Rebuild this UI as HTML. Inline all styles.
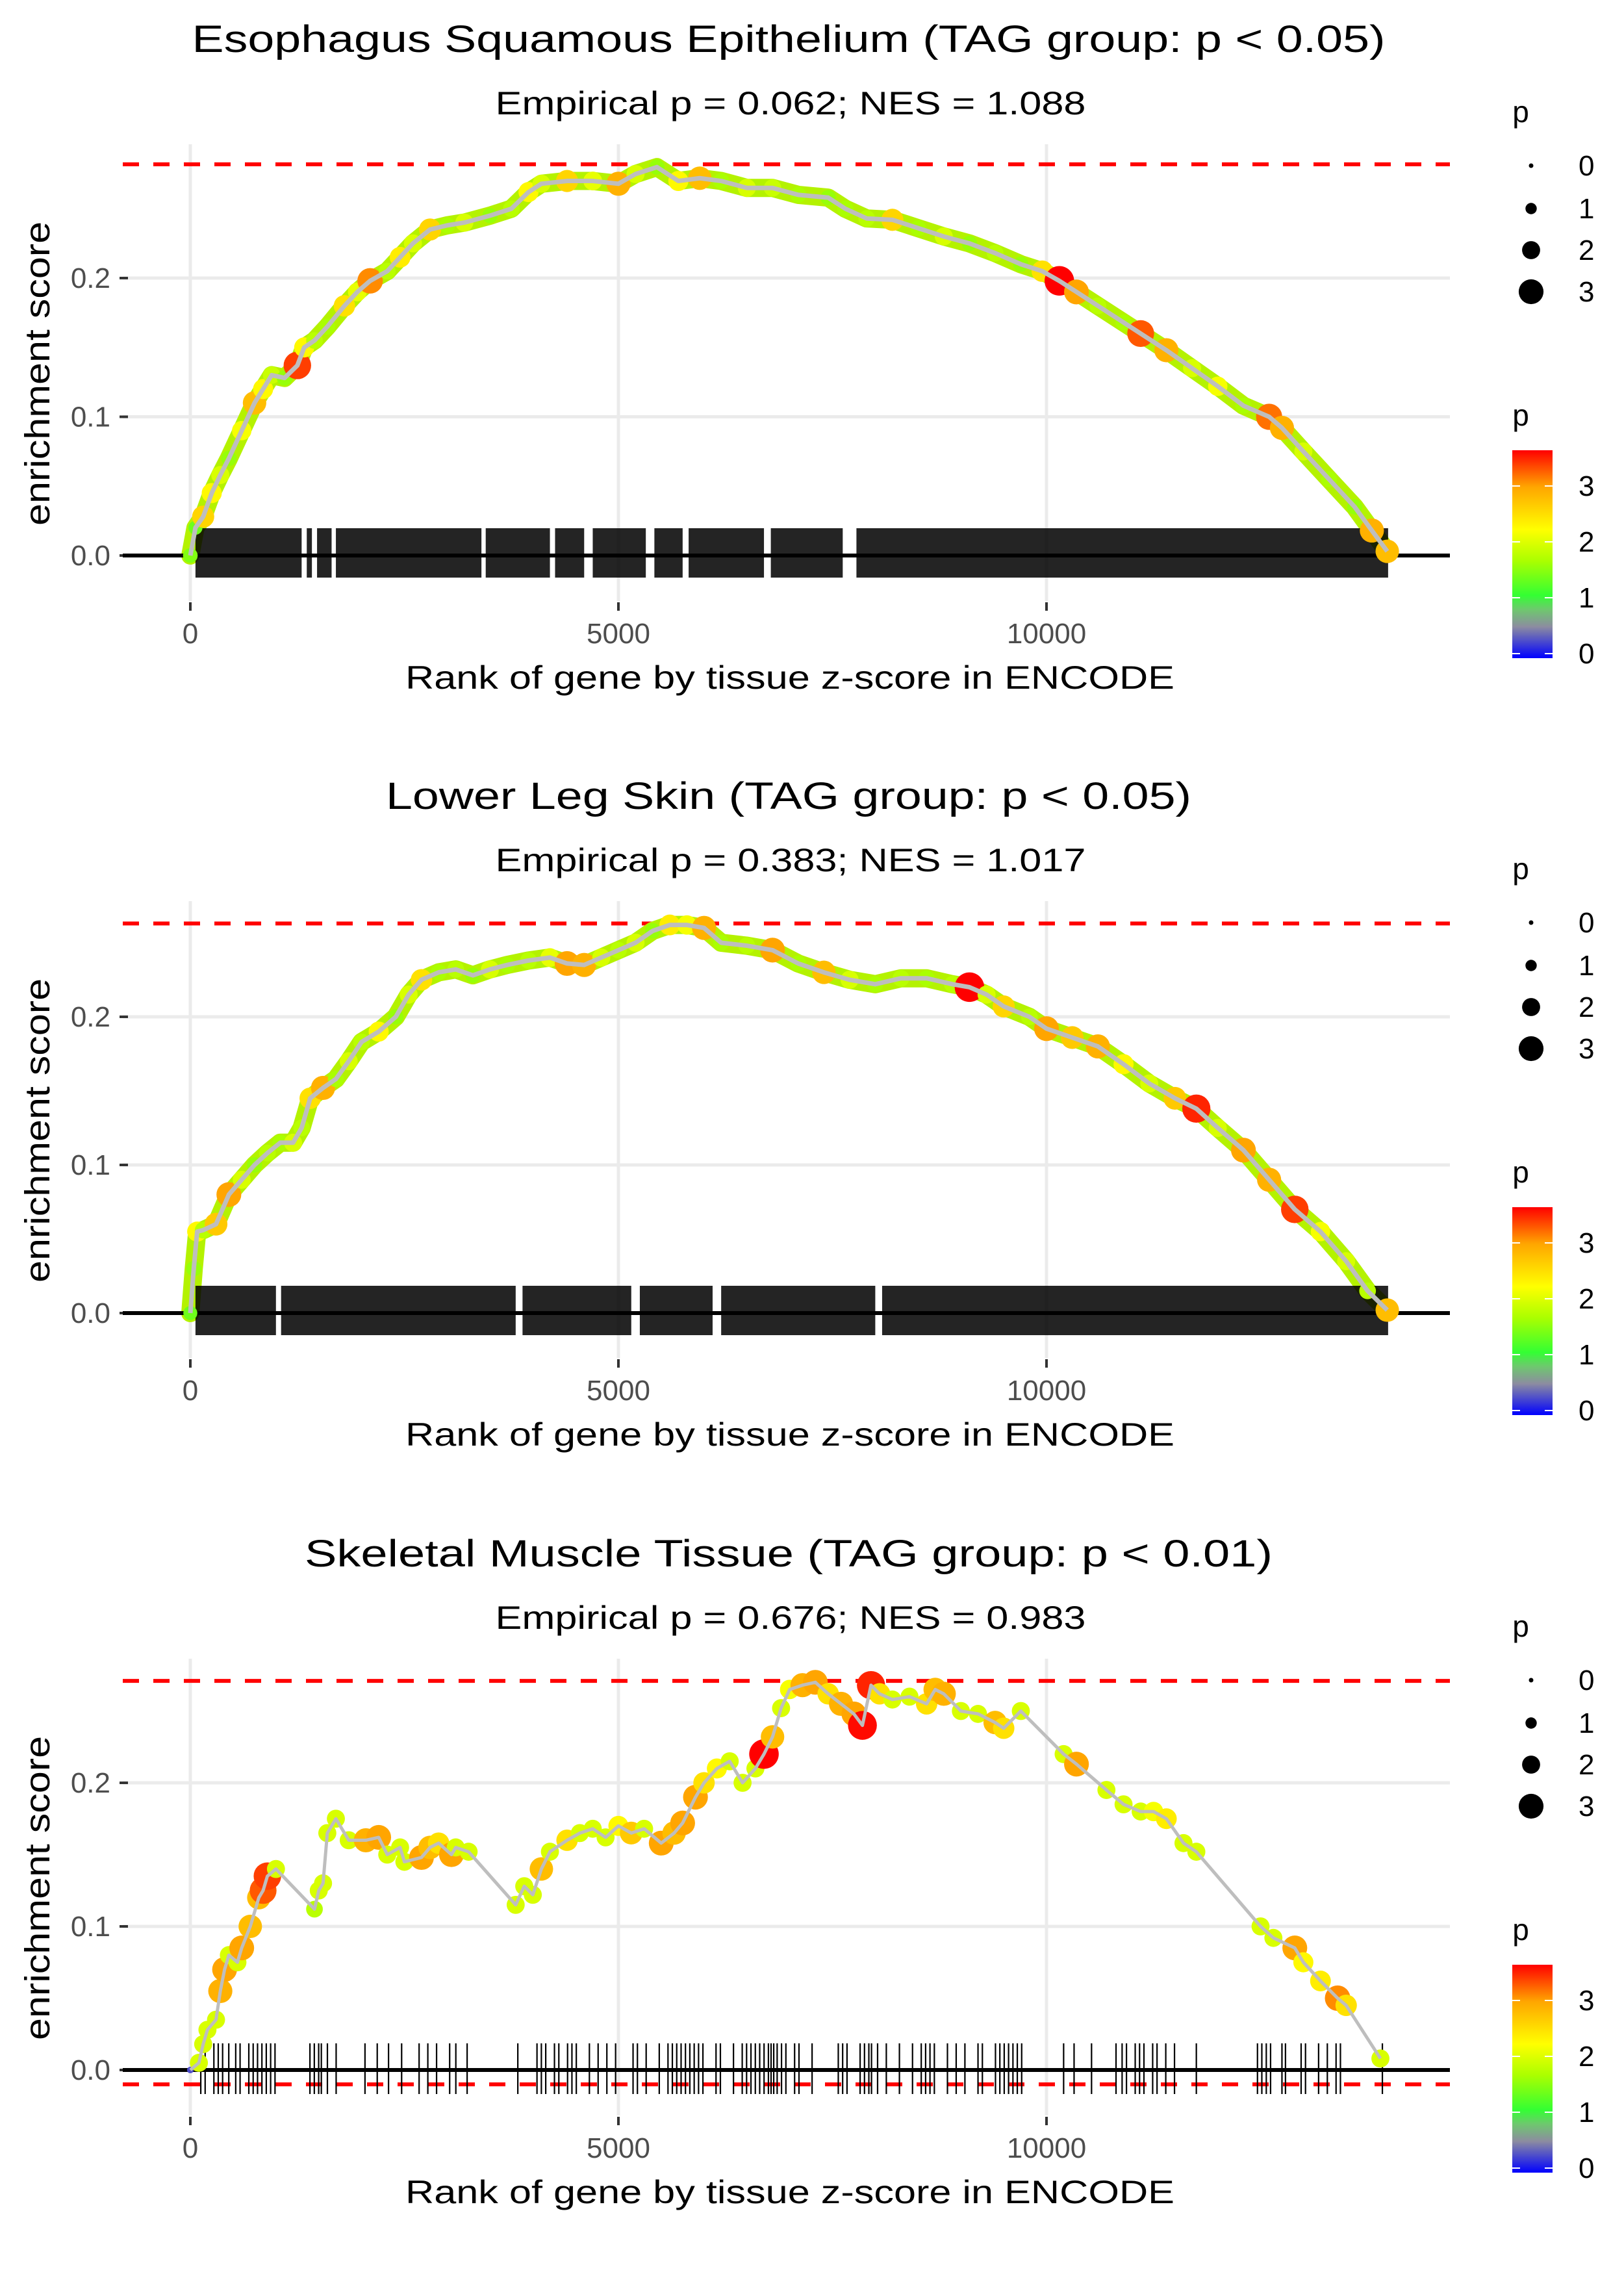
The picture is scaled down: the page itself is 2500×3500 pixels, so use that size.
<!DOCTYPE html>
<html><head><meta charset="utf-8"><style>
html,body{margin:0;padding:0;background:#fff;}
svg{display:block;font-family:"Liberation Sans",sans-serif;}
</style></head><body>
<svg id="root" width="2500" height="3500" viewBox="0 0 2500 3500" xmlns="http://www.w3.org/2000/svg"></svg>
<script>
// ---------- Panel 1 data ----------
const ranks1 = [0,60,150,250,350,450,600,750,850,950,1100,1250,1330,1450,1600,1800,1950,2100,2300,2450,2600,2800,3000,3200,3500,3750,3950,4100,4400,4700,5000,5200,5450,5700,5950,6200,6500,6800,7100,7450,7650,7900,8200,8500,8800,9100,9400,9700,9950,10150,10350,10600,10900,11100,11400,11700,12000,12300,12600,12750,13000,13300,13600,13800,13980];
const es1 = [0.0,0.02,0.028,0.045,0.058,0.07,0.09,0.11,0.12,0.13,0.128,0.137,0.15,0.155,0.165,0.18,0.19,0.198,0.205,0.215,0.225,0.235,0.238,0.24,0.245,0.25,0.262,0.268,0.27,0.27,0.268,0.275,0.28,0.27,0.272,0.27,0.265,0.265,0.26,0.258,0.25,0.243,0.242,0.236,0.23,0.225,0.218,0.21,0.205,0.198,0.19,0.18,0.168,0.16,0.148,0.135,0.122,0.108,0.1,0.092,0.075,0.055,0.035,0.018,0.003];
const p1 = [1.5,1.4,2.6,2.3,2.0,1.6,2.2,2.8,2.3,1.9,1.6,3.4,2.3,1.8,1.7,2.5,2.1,3.1,1.8,2.4,2.0,2.6,1.7,2.0,1.6,1.8,2.3,2.0,2.6,2.1,2.9,2.0,1.6,2.3,2.8,1.7,2.0,1.9,1.7,1.6,1.7,1.8,2.6,1.7,2.0,1.6,1.8,1.6,2.5,3.7,3.0,1.8,1.7,3.3,2.9,2.0,2.2,1.7,3.2,2.9,2.0,1.7,1.6,2.9,2.8];
const rugBands1 = [[60,1300],[1360,1420],[1480,1650],[1700,3400],[3450,4200],[4260,4600],[4700,5320],[5420,5750],[5820,6700],[6780,7620],[7780,13990]];
// ---------- Panel 2 data ----------
const ranks2 = [0,40,80,150,300,450,600,750,900,1050,1200,1300,1400,1550,1700,1850,2000,2200,2400,2550,2700,2900,3100,3300,3500,3700,3950,4200,4400,4600,4800,5000,5200,5400,5600,5800,6000,6200,6500,6800,7100,7400,7700,8000,8300,8600,8900,9100,9300,9500,9800,10000,10300,10600,10900,11200,11500,11750,12000,12300,12600,12900,13200,13500,13750,13980];
const es2 = [0.0,0.03,0.055,0.056,0.06,0.08,0.09,0.1,0.108,0.115,0.115,0.125,0.145,0.152,0.158,0.17,0.183,0.19,0.2,0.215,0.225,0.23,0.232,0.228,0.232,0.235,0.238,0.24,0.236,0.235,0.24,0.245,0.25,0.258,0.262,0.262,0.26,0.25,0.248,0.245,0.236,0.23,0.225,0.222,0.226,0.226,0.222,0.22,0.215,0.207,0.2,0.192,0.186,0.18,0.168,0.155,0.145,0.138,0.125,0.11,0.09,0.07,0.055,0.035,0.015,0.002];
const p2 = [1.4,1.6,2.3,1.8,2.7,3.0,2.0,1.6,1.8,1.7,2.0,1.8,2.5,2.9,1.7,2.0,1.8,2.3,1.6,2.0,2.5,1.7,1.8,1.6,2.0,1.7,1.8,2.1,3.0,2.9,2.0,1.8,2.0,1.6,2.4,2.2,2.9,1.7,1.8,3.0,1.7,2.8,2.0,1.7,1.8,1.7,1.8,3.7,2.0,2.6,1.8,3.0,2.7,2.9,2.3,2.0,2.7,3.5,2.0,3.0,2.9,3.4,2.2,2.0,1.8,2.8];
const rugBands2 = [[60,1000],[1060,3800],[3880,5150],[5250,6100],[6200,8000],[8080,13990]];
// ---------- Panel 3 data ----------
const ranks3 = [0,100,150,200,300,350,400,450,550,600,700,800,850,900,1000,1450,1500,1550,1600,1700,1850,2050,2200,2300,2450,2500,2700,2800,2900,3050,3100,3250,3800,3900,4000,4100,4200,4400,4550,4700,4850,5000,5150,5300,5500,5650,5750,5900,6000,6150,6300,6450,6600,6700,6800,6900,7000,7150,7300,7450,7600,7750,7850,7950,8050,8200,8400,8600,8700,8800,9000,9200,9400,9500,9700,10200,10350,10700,10900,11100,11250,11400,11600,11750,12500,12650,12900,13000,13200,13400,13500,13900];
const es3 = [0.0,0.005,0.018,0.028,0.035,0.055,0.07,0.08,0.075,0.085,0.1,0.12,0.125,0.135,0.14,0.112,0.125,0.13,0.165,0.175,0.16,0.16,0.162,0.15,0.155,0.145,0.148,0.155,0.158,0.15,0.155,0.152,0.115,0.128,0.122,0.14,0.152,0.16,0.165,0.168,0.162,0.17,0.165,0.168,0.158,0.165,0.172,0.19,0.2,0.21,0.215,0.2,0.21,0.22,0.232,0.252,0.265,0.268,0.27,0.262,0.255,0.248,0.24,0.268,0.262,0.258,0.26,0.255,0.265,0.262,0.25,0.248,0.242,0.238,0.25,0.22,0.213,0.195,0.185,0.18,0.18,0.175,0.158,0.152,0.1,0.092,0.085,0.075,0.062,0.05,0.045,0.008];
const p3 = [0.3,2.0,2.0,2.0,2.0,2.9,3.0,2.0,2.0,3.0,2.8,2.8,3.3,3.4,2.0,1.8,2.0,2.0,2.0,2.0,2.0,2.9,3.0,2.0,2.0,2.0,3.0,2.8,2.5,3.0,2.0,2.0,2.0,2.0,2.0,2.8,2.0,2.5,2.0,2.0,2.0,2.3,2.7,2.0,3.0,2.8,3.0,3.0,2.5,2.3,2.0,2.0,2.0,3.7,2.8,2.0,2.2,2.9,3.0,2.5,2.9,3.0,3.6,3.5,2.5,2.0,2.0,2.5,2.8,2.9,2.0,2.0,2.8,2.5,2.0,2.0,3.0,2.0,2.0,2.0,2.2,2.4,2.0,2.0,2.0,2.0,3.0,2.3,2.4,3.1,2.5,2.0];
const rug3 = [122,173,275,326,377,449,530,581,683,734,785,836,887,938,989,1397,1448,1499,1530,1601,1703,2040,2183,2315,2468,2672,2774,2876,3029,3101,3233,3825,4049,4100,4151,4253,4304,4406,4457,4508,4661,4763,4865,4967,5171,5222,5324,5477,5579,5630,5681,5732,5783,5834,5885,5936,5987,6140,6191,6344,6446,6497,6548,6599,6650,6701,6752,6783,6814,6854,6905,6956,7058,7109,7262,7568,7619,7670,7823,7874,7925,7956,8027,8129,8282,8435,8537,8588,8639,8690,8843,8945,9047,9200,9251,9404,9455,9506,9557,9608,9659,9710,10200,10322,10526,10812,10883,10934,11036,11087,11138,11240,11291,11393,11495,11750,12464,12515,12567,12617,12750,12791,12974,13025,13178,13280,13382,13433,13923];
const xTicks = [0,5000,10000];
const yTicks = [0.0,0.1,0.2];

const NS = "http://www.w3.org/2000/svg";
const root = document.getElementById('root');
function mk(tag, attrs, parent){ const e=document.createElementNS(NS,tag); for(const k in attrs) e.setAttribute(k,attrs[k]); (parent||root).appendChild(e); return e; }

const cStops = [[0,[0,0,255]],[0.55,[140,140,160]],[0.85,[110,200,110]],[1.1,[51,255,51]],[1.7,[170,255,0]],[2.25,[255,255,0]],[3.0,[255,165,0]],[3.64,[255,0,0]]];
function pColor(p){
  if(p<=cStops[0][0]) return 'rgb('+cStops[0][1]+')';
  for(let i=1;i<cStops.length;i++){ if(p<=cStops[i][0]){ const a=cStops[i-1],b=cStops[i],t=(p-a[0])/(b[0]-a[0]); return 'rgb('+a[1].map((v,j)=>Math.round(v+(b[1][j]-v)*t)).join(',')+')'; } }
  return 'rgb(255,0,0)';
}
function pRadius(p){ return 3.5+5.2*p; }

const X0 = 293, XPX = 659/5000, PL = 189, PR = 2232;
function xs(r){ return X0 + r*XPX; }

function panel(cfg){
  const g = mk('g',{});
  
  
  const off=cfg.off, y0=off+cfg.zeroY, ypx=cfg.ypx;
  const ys = v => y0 - v*ypx;
  const top=off+222, bot=off+925;
  yTicks.forEach(t=>{ const l=mk('line',{x1:PL,x2:PR,y1:ys(t),y2:ys(t),stroke:'#ebebeb','stroke-width':5},g);   });
  xTicks.forEach(t=>{ const l=mk('line',{x1:xs(t),x2:xs(t),y1:top,y2:bot,stroke:'#ebebeb','stroke-width':5},g);   });
  const tt=mk('text',{x:1214,y:off+80,'text-anchor':'middle','font-size':58,textLength:cfg.tLen,lengthAdjust:'spacingAndGlyphs'},g); tt.textContent=cfg.title;
   
  const st=mk('text',{x:1217,y:off+176,'text-anchor':'middle','font-size':50,textLength:909,lengthAdjust:'spacingAndGlyphs'},g); st.textContent=cfg.sub;
   
  const yt=mk('text',{x:0,y:0,'text-anchor':'middle','font-size':54,textLength:468,lengthAdjust:'spacingAndGlyphs',transform:'translate(76,'+(off+575)+') rotate(-90)'},g); yt.textContent='enrichment score';
   
  const xt=mk('text',{x:1216,y:off+1060,'text-anchor':'middle','font-size':50,textLength:1184,lengthAdjust:'spacingAndGlyphs'},g); xt.textContent='Rank of gene by tissue z-score in ENCODE';
   
  yTicks.forEach(t=>{
    mk('line',{x1:184,x2:197,y1:ys(t),y2:ys(t),stroke:'#333','stroke-width':4},g);
    const l=mk('text',{x:170,y:ys(t)+15,'text-anchor':'end','font-size':44,fill:'#4d4d4d'},g); l.textContent=t.toFixed(1);
     
  });
  xTicks.forEach(t=>{
    mk('line',{x1:xs(t),x2:xs(t),y1:off+927,y2:off+940,stroke:'#333','stroke-width':4},g);
    const l=mk('text',{x:xs(t),y:off+990,'text-anchor':'middle','font-size':44,fill:'#4d4d4d'},g); l.textContent=String(t);
     
  });
  cfg.dash.forEach(v=>{ const l=mk('line',{x1:PL,x2:PR,y1:ys(v),y2:ys(v),stroke:'#ff0000','stroke-width':6,'stroke-dasharray':'25 22'},g);   });
  const R=cfg.ranks, E=cfg.es, P=cfg.p;
  const pts=R.map((r,i)=>xs(r)+','+ys(E[i])).join(' ');
  if(cfg.dense){
    const u=mk('polyline',{points:pts,fill:'none',stroke:'#b4f200','stroke-width':28,'stroke-linejoin':'round','stroke-linecap':'round'},g);
     
  }
  const rt=off+cfg.rugTop, rb=off+cfg.rugBot;
  if(cfg.bands){ cfg.bands.forEach(b=>{ const r=mk('rect',{x:xs(b[0]),y:rt,width:xs(b[1])-xs(b[0]),height:rb-rt,fill:'#000','fill-opacity':0.86},g);   }); }
  if(cfg.rug){ cfg.rug.forEach(r=>{ const l=mk('line',{x1:xs(r),x2:xs(r),y1:rt,y2:rb,stroke:'#000','stroke-width':2.2},g);   }); }
  const z=mk('line',{x1:PL,x2:PR,y1:y0,y2:y0,stroke:'#000','stroke-width':6},g);
   
  R.forEach((r,i)=>{ const c=mk('circle',{cx:xs(r),cy:ys(E[i]),r:pRadius(P[i]),fill:pColor(P[i])},g);   });
  const pl=mk('polyline',{points:pts,fill:'none',stroke:'#bebebe','stroke-width':cfg.dense?7:5,'stroke-linejoin':'round'},g);
   
  const lp=mk('text',{x:2341,y:off+188,'font-size':46,'text-anchor':'middle'},g); lp.textContent='p';
   
  [0,1,2,3].forEach((v,i)=>{
    const cy=off+[255,321,385,449][i];
    const c=mk('circle',{cx:2357,cy:cy,r:pRadius(v)},g);  
    const t=mk('text',{x:2430,y:cy+15,'font-size':44},g); t.textContent=String(v);
     
  });
  const cp=mk('text',{x:2341,y:off+655,'font-size':46,'text-anchor':'middle'},g); cp.textContent='p';
   
  const cb=mk('rect',{x:2328,y:off+693,width:62,height:320,fill:'url(#cbar)'},g);
   
  [0,1,2,3].forEach(v=>{
    const yy=off+1006-v*86;
    mk('line',{x1:2328,x2:2340,y1:yy,y2:yy,stroke:'#fff','stroke-width':2},g);
    mk('line',{x1:2378,x2:2390,y1:yy,y2:yy,stroke:'#fff','stroke-width':2},g);
    const t=mk('text',{x:2430,y:yy+15,'font-size':44},g); t.textContent=String(v);
     
  });
}
const defs=mk('defs',{});
const lg=mk('linearGradient',{id:'cbar',x1:0,y1:1,x2:0,y2:0},defs);
cStops.forEach(s=>mk('stop',{offset:(s[0]/3.64).toFixed(3),'stop-color':'rgb('+s[1]+')'},lg));

panel({name:'panel-esophagus',off:0,zeroY:855,ypx:2135,title:'Esophagus Squamous Epithelium (TAG group: p < 0.05)',tLen:1837,sub:'Empirical p = 0.062; NES = 1.088',dash:[0.282,0.0],ranks:ranks1,es:es1,p:p1,dense:true,bands:rugBands1,rugTop:813,rugBot:889});
panel({name:'panel-lower-leg-skin',off:1165,zeroY:856,ypx:2280,title:'Lower Leg Skin (TAG group: p < 0.05)',tLen:1240,sub:'Empirical p = 0.383; NES = 1.017',dash:[0.263,0.0],ranks:ranks2,es:es2,p:p2,dense:true,bands:rugBands2,rugTop:814,rugBot:890});
panel({name:'panel-skeletal-muscle',off:2331,zeroY:855,ypx:2210,title:'Skeletal Muscle Tissue (TAG group: p < 0.01)',tLen:1490,sub:'Empirical p = 0.676; NES = 0.983',dash:[0.271,-0.01],ranks:ranks3,es:es3,p:p3,dense:false,rug:rug3,rugTop:814,rugBot:892});
</script>
</body></html>
